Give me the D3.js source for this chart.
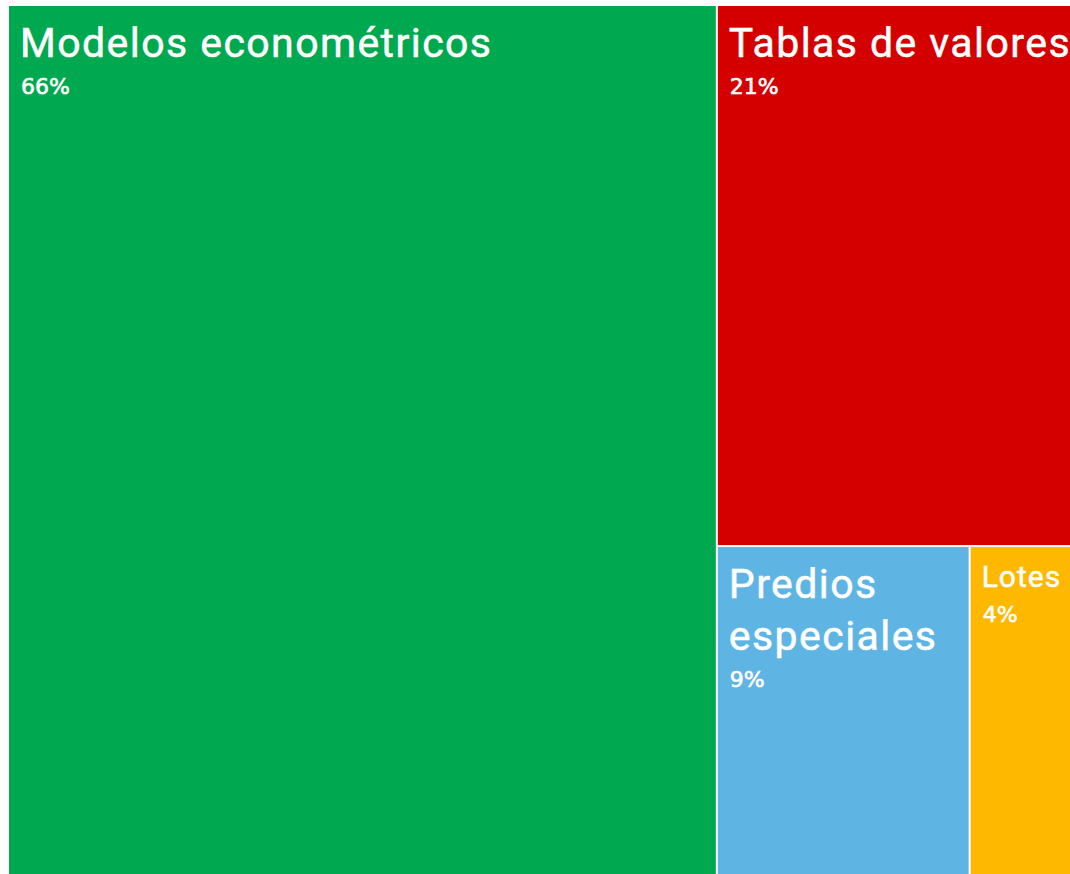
<!DOCTYPE html>
<html>
<head>
<meta charset="utf-8">
<script src="https://cdn.jsdelivr.net/npm/d3@7"></script>
<style>
body{margin:0;background:#fff;overflow:hidden;}
</style>
</head>
<body>
<div id="treemap"></div>
<script>
var categories = ["Modelos econométricos", "Tablas de valores", "Predios especiales", "Lotes"];
var values = [66, 21, 9, 4];
var colors = ["#00A94F", "#D40000", "#5EB5E4", "#FFB800"];

var margin = {top: 6, left: 9},
    width = 1072,
    height = 874;

var svg = d3.select("#treemap")
  .append("svg")
    .attr("width", 1070)
    .attr("height", 874)
    .style("display", "block")
  .append("g")
    .attr("transform", "translate(" + margin.left + "," + margin.top + ")");

var data = {name: "root", children: categories.map(function(c, i) {
  return {name: c, value: values[i], color: colors[i]};
})};

var root = d3.hierarchy(data).sum(function(d) { return d.value; });

d3.treemap()
  .size([width, height])
  .paddingInner(2)
  .tile(d3.treemapSquarify)(root);

var total = d3.sum(values);

var cell = svg.selectAll("g.cell")
  .data(root.leaves())
  .enter()
  .append("g")
    .attr("class", "cell")
    .attr("transform", function(d) { return "translate(" + d.x0 + "," + d.y0 + ")"; });

cell.append("rect")
  .attr("width", function(d) { return d.x1 - d.x0; })
  .attr("height", function(d) { return d.y1 - d.y0; })
  .attr("fill", function(d) { return d.data.color; });

// hidden text used to measure words
var tmp = svg.append("text")
  .attr("font-family", "Roboto")
  .style("visibility", "hidden");

function measure(str, fs) {
  tmp.attr("font-size", fs)
    .attr("letter-spacing", fs * 0.035)
    .text(str);
  return tmp.node().getComputedTextLength();
}

cell.each(function(d) {
  var g = d3.select(this);
  var w = d.x1 - d.x0;
  var words = d.data.name.split(" ");
  var fs = 41;

  // shrink if a single word does not fit
  var widest = d3.max(words, function(wd) { return measure(wd, fs); });
  if (widest > w - 28) fs = Math.floor(fs * (w - 28) / widest);

  // greedy wrap
  var lines = [], line = "";
  words.forEach(function(wd) {
    var test = line ? line + " " + wd : wd;
    if (line && measure(test, fs) > w - 12) {
      lines.push(line);
      line = wd;
    } else {
      line = test;
    }
  });
  lines.push(line);

  var lh = fs * 1.27;
  var firstBase = 10 + fs;

  var title = g.append("text")
    .attr("font-family", "Roboto")
    .attr("font-size", fs)
    .attr("letter-spacing", fs * 0.035)
    .attr("fill", "#fff")
    .attr("stroke", "#fff")
    .attr("stroke-width", 0.5);

  lines.forEach(function(l, i) {
    title.append("tspan")
      .attr("x", 11)
      .attr("y", firstBase + i * lh)
      .text(l);
  });

  var lastBase = firstBase + (lines.length - 1) * lh;

  g.append("text")
    .attr("x", 12)
    .attr("y", lastBase + fs * 0.25 + 27)
    .attr("font-family", "DejaVu Sans")
    .attr("font-size", 22)
    .attr("fill", "#fff")
    .attr("stroke", "#fff")
    .attr("stroke-width", 0.6)
    .text(Math.round(d.value / total * 100) + "%");
});

tmp.remove();
</script>
</body>
</html>
